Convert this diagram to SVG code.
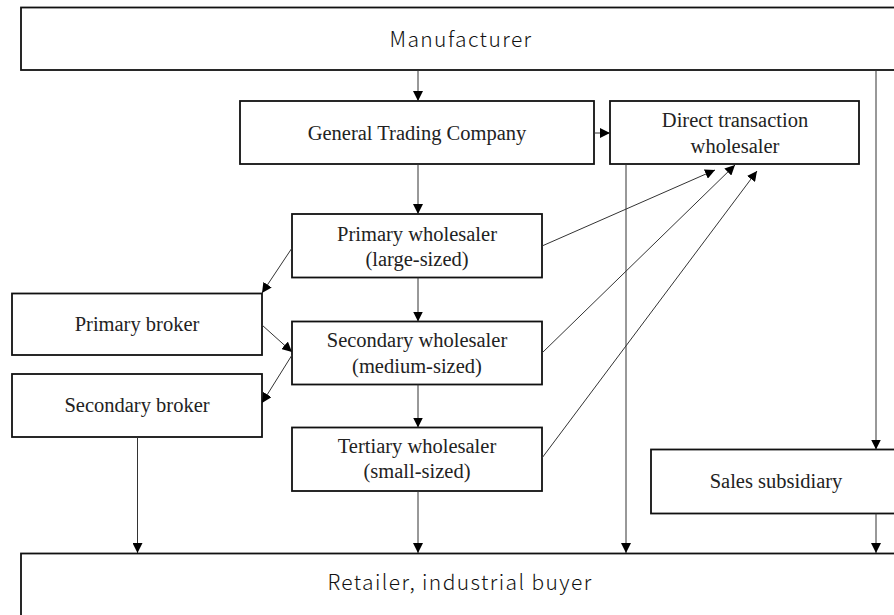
<svg xmlns="http://www.w3.org/2000/svg" width="894" height="615" viewBox="0 0 894 615">
<defs>
<style>
.box{fill:#fff;stroke:#111;stroke-width:1.8}
.serif{font-family:"Liberation Serif","Times New Roman",serif;font-size:20.5px;fill:#222;text-anchor:middle}
.sans{font-family:"Noto Sans CJK JP","Noto Sans",sans-serif;font-weight:300;font-size:21px;fill:#111;text-anchor:middle;letter-spacing:1.4px}
.edge{stroke:#333;stroke-width:1;fill:none;marker-end:url(#ah)}
</style>
<marker id="ah" markerUnits="userSpaceOnUse" markerWidth="10" markerHeight="10" refX="10" refY="5" orient="auto">
<path d="M0,0 L10,5 L0,10 z" fill="#000"/>
</marker>
</defs>
<rect width="894" height="615" fill="#fff"/>
<g id="manufacturer">
<rect class="box" x="21" y="7.5" width="890" height="62.5"/>
<text class="sans" x="461" y="47">Manufacturer</text>
</g>
<g id="general-trading">
<rect class="box" x="240" y="101" width="354" height="63"/>
<text class="serif" x="417" y="140">General Trading Company</text>
</g>
<g id="direct-wholesaler">
<rect class="box" x="610" y="101" width="249" height="63"/>
<text class="serif" x="735" y="127">Direct transaction</text>
<text class="serif" x="735" y="153">wholesaler</text>
</g>
<g id="primary-wholesaler">
<rect class="box" x="292" y="214" width="250" height="63.5"/>
<text class="serif" x="417" y="241">Primary wholesaler</text>
<text class="serif" x="417" y="266">(large-sized)</text>
</g>
<g id="secondary-wholesaler">
<rect class="box" x="292" y="321.5" width="250" height="63"/>
<text class="serif" x="417" y="347">Secondary wholesaler</text>
<text class="serif" x="417" y="373">(medium-sized)</text>
</g>
<g id="tertiary-wholesaler">
<rect class="box" x="292" y="427.5" width="250" height="63.5"/>
<text class="serif" x="417" y="453">Tertiary wholesaler</text>
<text class="serif" x="417" y="478">(small-sized)</text>
</g>
<g id="primary-broker">
<rect class="box" x="12" y="293.5" width="250" height="61.5"/>
<text class="serif" x="137" y="331">Primary broker</text>
</g>
<g id="secondary-broker">
<rect class="box" x="12" y="374" width="250" height="63"/>
<text class="serif" x="137" y="412">Secondary broker</text>
</g>
<g id="sales-subsidiary">
<rect class="box" x="651" y="449.5" width="252" height="64"/>
<text class="serif" x="776" y="488">Sales subsidiary</text>
</g>
<g id="retailer">
<rect class="box" x="21" y="553.5" width="890" height="80"/>
<text class="sans" x="460" y="590">Retailer, industrial buyer</text>
</g>
<g id="connectors">
<line class="edge" x1="418" y1="70" x2="418" y2="101"/>
<line class="edge" x1="594" y1="133" x2="610" y2="133"/>
<line class="edge" x1="418" y1="164" x2="418" y2="214"/>
<line class="edge" x1="418" y1="277.5" x2="418" y2="321.5"/>
<line class="edge" x1="418" y1="384.5" x2="418" y2="427.5"/>
<line class="edge" x1="418" y1="491" x2="418" y2="553"/>
<line class="edge" x1="137.5" y1="437" x2="137.5" y2="553"/>
<line class="edge" x1="626" y1="164" x2="626" y2="553"/>
<line class="edge" x1="876" y1="70" x2="876" y2="449.5"/>
<line class="edge" x1="876" y1="513.5" x2="876" y2="553"/>
<line class="edge" x1="292" y1="248" x2="262" y2="293"/>
<line class="edge" x1="262" y1="325" x2="292" y2="352"/>
<line class="edge" x1="292" y1="355" x2="262" y2="403"/>
<line class="edge" x1="542" y1="246" x2="715" y2="170"/>
<line class="edge" x1="542" y1="353" x2="735" y2="165"/>
<line class="edge" x1="542" y1="458" x2="757" y2="171"/>
</g>
</svg>
